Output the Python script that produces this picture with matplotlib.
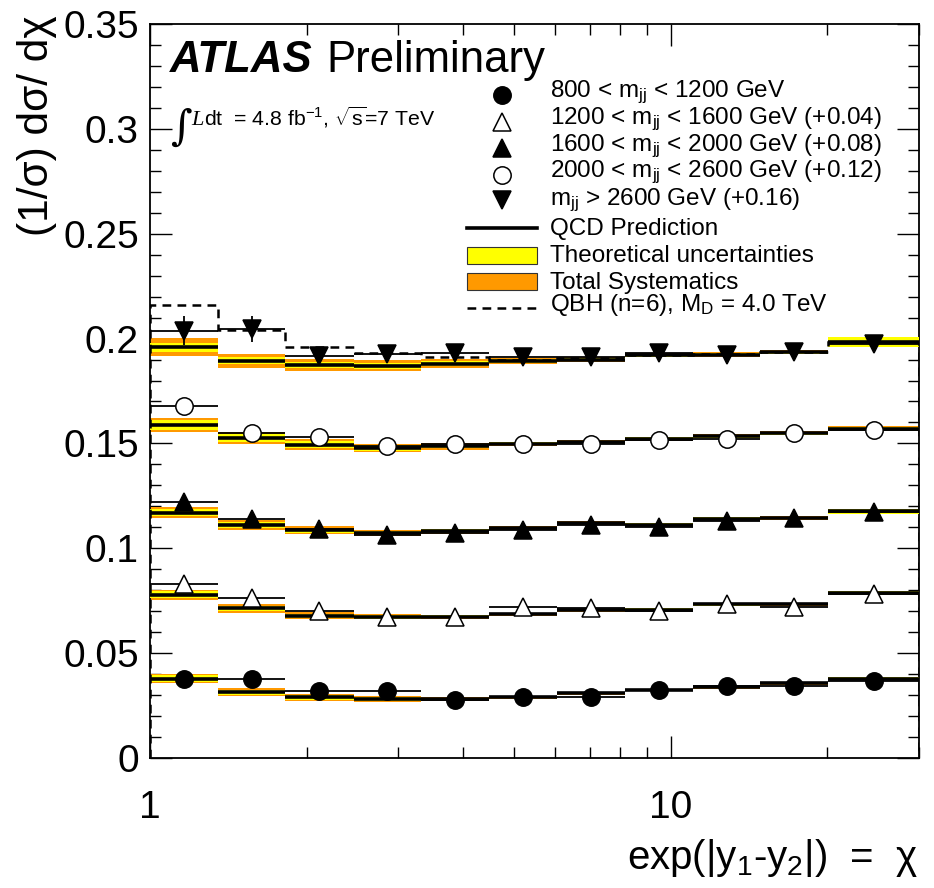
import numpy as np
import matplotlib
matplotlib.use("Agg")
import matplotlib.pyplot as plt

plt.rcParams["font.family"] = ["Liberation Sans", "DejaVu Sans"]
plt.rcParams["mathtext.fontset"] = "custom"
plt.rcParams["mathtext.rm"] = "Liberation Sans"
plt.rcParams["mathtext.it"] = "Liberation Sans:italic"
plt.rcParams["mathtext.bf"] = "Liberation Sans:bold"

# chi bin edges (exp of |y1-y2| in steps of 0.3, last bin up to 30)
chi_edges = [1.0, 1.35, 1.82, 2.46, 3.32, 4.48, 6.05, 8.17, 11.02, 14.88, 20.09, 30.0]

# mass-bin labels and the vertical offsets added for display
mass_labels = [
    r"800 < m$_{\rm jj}$ < 1200 GeV",
    r"1200 < m$_{\rm jj}$ < 1600 GeV (+0.04)",
    r"1600 < m$_{\rm jj}$ < 2000 GeV (+0.08)",
    r"2000 < m$_{\rm jj}$ < 2600 GeV (+0.12)",
    r"m$_{\rm jj}$ > 2600 GeV (+0.16)",
]
offsets = [0.0, 0.04, 0.08, 0.12, 0.16]

# measured normalised distributions (before offset)
data_m1 = [0.0378, 0.0375, 0.0319, 0.0319, 0.0276, 0.0289, 0.0292, 0.0324, 0.0343, 0.0344, 0.0368]
data_m2 = [0.0432, 0.0363, 0.0301, 0.0270, 0.0270, 0.0321, 0.0313, 0.0300, 0.0332, 0.0321, 0.0384]
data_m3 = [0.0422, 0.0338, 0.0290, 0.0262, 0.0275, 0.0289, 0.0310, 0.0302, 0.0330, 0.0346, 0.0373]
data_m4 = [0.0478, 0.0350, 0.0330, 0.0290, 0.0298, 0.0298, 0.0298, 0.0317, 0.0322, 0.0349, 0.0365]
data_m5 = [0.0438, 0.0446, 0.0319, 0.0328, 0.0330, 0.0310, 0.0314, 0.0330, 0.0320, 0.0335, 0.0375]

# statistical uncertainties
stat_m1 = [0.0010, 0.0010, 0.0008, 0.0008, 0.0008, 0.0008, 0.0008, 0.0008, 0.0008, 0.0008, 0.0008]
stat_m2 = [0.0020, 0.0016, 0.0012, 0.0010, 0.0010, 0.0010, 0.0010, 0.0010, 0.0010, 0.0010, 0.0010]
stat_m3 = [0.0025, 0.0020, 0.0015, 0.0012, 0.0012, 0.0012, 0.0012, 0.0012, 0.0012, 0.0012, 0.0012]
stat_m4 = [0.0030, 0.0025, 0.0020, 0.0015, 0.0015, 0.0015, 0.0015, 0.0015, 0.0015, 0.0015, 0.0015]
stat_m5 = [0.0070, 0.0060, 0.0040, 0.0030, 0.0030, 0.0025, 0.0025, 0.0025, 0.0025, 0.0025, 0.0025]

# QCD prediction (before offset)
qcd_m1 = [0.0379, 0.0313, 0.0289, 0.0281, 0.0281, 0.0289, 0.0308, 0.0324, 0.0337, 0.0356, 0.0379]
qcd_m2 = [0.0379, 0.0313, 0.0278, 0.0273, 0.0273, 0.0286, 0.0305, 0.0308, 0.0332, 0.0333, 0.0387]
qcd_m3 = [0.0370, 0.0312, 0.0286, 0.0273, 0.0282, 0.0297, 0.0320, 0.0313, 0.0341, 0.0344, 0.0376]
qcd_m4 = [0.0386, 0.0325, 0.0294, 0.0277, 0.0287, 0.0298, 0.0306, 0.0322, 0.0335, 0.0349, 0.0370]
qcd_m5 = [0.0358, 0.0295, 0.0275, 0.0271, 0.0280, 0.0292, 0.0300, 0.0320, 0.0324, 0.0335, 0.0383]

# theoretical uncertainty (half width)
theo_m1 = [0.0015, 0.0013, 0.0012, 0.0010, 0.0006, 0.0005, 0.0005, 0.0005, 0.0005, 0.0005, 0.0009]
theo_m2 = [0.0015, 0.0013, 0.0011, 0.0008, 0.0007, 0.0005, 0.0005, 0.0005, 0.0005, 0.0005, 0.0010]
theo_m3 = [0.0017, 0.0015, 0.0012, 0.0010, 0.0008, 0.0006, 0.0006, 0.0006, 0.0006, 0.0006, 0.0012]
theo_m4 = [0.0024, 0.0020, 0.0016, 0.0014, 0.0010, 0.0007, 0.0007, 0.0007, 0.0007, 0.0007, 0.0009]
theo_m5 = [0.0021, 0.0018, 0.0015, 0.0014, 0.0012, 0.0010, 0.0007, 0.0007, 0.0007, 0.0007, 0.0024]

# total systematic uncertainty (half width)
syst_m1 = [0.0022, 0.0019, 0.0018, 0.0015, 0.0008, 0.0006, 0.0006, 0.0006, 0.0006, 0.0006, 0.0008]
syst_m2 = [0.0024, 0.0020, 0.0016, 0.0012, 0.0010, 0.0007, 0.0007, 0.0007, 0.0007, 0.0007, 0.0009]
syst_m3 = [0.0026, 0.0024, 0.0018, 0.0015, 0.0012, 0.0008, 0.0008, 0.0008, 0.0008, 0.0008, 0.0010]
syst_m4 = [0.0033, 0.0030, 0.0025, 0.0020, 0.0016, 0.0010, 0.0010, 0.0010, 0.0010, 0.0010, 0.0012]
syst_m5 = [0.0043, 0.0033, 0.0029, 0.0028, 0.0022, 0.0015, 0.0010, 0.0010, 0.0010, 0.0010, 0.0020]

# quantum black hole signal for the highest mass bin (before offset)
qbh_m5 = [0.0560, 0.0440, 0.0360, 0.0330, 0.0314, 0.0300, 0.0305, 0.0322, 0.0326, 0.0335, 0.0383]

data_sets = [data_m1, data_m2, data_m3, data_m4, data_m5]
stat_sets = [stat_m1, stat_m2, stat_m3, stat_m4, stat_m5]
qcd_sets = [qcd_m1, qcd_m2, qcd_m3, qcd_m4, qcd_m5]
theo_sets = [theo_m1, theo_m2, theo_m3, theo_m4, theo_m5]
syst_sets = [syst_m1, syst_m2, syst_m3, syst_m4, syst_m5]

marker_styles = [
    dict(marker="o", mfc="black", mec="black"),
    dict(marker="^", mfc="white", mec="black"),
    dict(marker="^", mfc="black", mec="black"),
    dict(marker="o", mfc="white", mec="black"),
    dict(marker="v", mfc="black", mec="black"),
]

YELLOW = "#ffff00"
ORANGE = "#ff9900"

W, H = 934, 888
fig = plt.figure(figsize=(W / 100, H / 100), dpi=100)
ax = fig.add_axes([150 / W, 1 - 758 / H, (919 - 150) / W, (758 - 24) / H])

edges = np.array(chi_edges)
centers = np.sqrt(edges[:-1] * edges[1:])
xlo = centers - edges[:-1]
xhi = edges[1:] - centers


def marker_size(m):
    return 12.5 if m == "o" else 13.5


for i in range(5):
    off = offsets[i]
    qcd = np.array(qcd_sets[i]) + off
    tot = np.array(syst_sets[i])
    th = np.array(theo_sets[i])
    ax.stairs(qcd + tot, edges, baseline=qcd - tot, fill=True, color=ORANGE, lw=0, zorder=2)
    ax.stairs(qcd + th, edges, baseline=qcd - th, fill=True, color=YELLOW, lw=0, zorder=3)
    ax.hlines(qcd, edges[:-1], edges[1:], colors="black", lw=2.6, zorder=4)

qbh = np.array(qbh_m5) + offsets[4]
ax.stairs(qbh, edges, baseline=0, color="black", lw=1.8, ls=(0, (3.5, 2.5)), zorder=5)

for i in range(5):
    y = np.array(data_sets[i]) + offsets[i]
    ax.errorbar(centers, y, xerr=[xlo, xhi], yerr=stat_sets[i], fmt="none",
                ecolor="black", elinewidth=1.3, capsize=0, zorder=6)
    st = marker_styles[i]
    ax.plot(centers, y, ls="none", marker=st["marker"], ms=marker_size(st["marker"]),
            mfc=st["mfc"], mec=st["mec"], mew=1.1, zorder=7)

ax.set_xscale("log")
ax.set_xlim(1, 30)
ax.set_ylim(0, 0.35)
ax.set_yticks(np.arange(0, 0.351, 0.05))
ax.set_yticks(np.arange(0, 0.351, 0.01), minor=True)
ax.set_yticklabels(["0", "0.05", "0.1", "0.15", "0.2", "0.25", "0.3", "0.35"])
ax.set_xticks([1, 10])
ax.set_xticklabels(["1", "10"])
ax.set_xticks([2, 3, 4, 5, 6, 7, 8, 9, 20, 30], minor=True)
ax.xaxis.set_minor_formatter(matplotlib.ticker.NullFormatter())
ax.tick_params(which="both", direction="in", top=True, right=True, width=1.0)
ax.tick_params(which="major", length=16)
ax.tick_params(which="minor", length=8)
ax.tick_params(axis="y", labelsize=28, pad=8)
ax.tick_params(axis="x", labelsize=28, pad=23)
for s in ax.spines.values():
    s.set_linewidth(1.3)


def fx(px):
    return px / W


def fy(py):
    return 1 - py / H


# axis titles
fig.text(fx(37), fy(126), "(1/σ) dσ/ dχ", rotation=90, fontsize=30.5, ha="center", va="center")
fig.text(fx(918), fy(858), r"exp(|y$_1$-y$_2$|)  =  χ", fontsize=29, ha="right", va="center")

# experiment labels
fig.text(fx(170), fy(72), "ATLAS", fontsize=31.5, fontweight="bold", fontstyle="italic", va="baseline")
fig.text(fx(326), fy(72), "Preliminary", fontsize=31.5, va="baseline")
fig.text(fx(170), fy(140), "∫", fontsize=30, family="DejaVu Serif", va="baseline")
fig.text(fx(191), fy(125), "L", fontsize=16, family="Liberation Serif", fontstyle="italic", va="baseline")
fig.text(fx(204), fy(125), r"dt  = 4.8 fb$^{-1}$, $\sqrt{\rm s}$=7 TeV", fontsize=15.3, va="baseline")

# legend
leg_fs = 17.5
text_x = fx(550)
mark_x = fx(502)
line_x0, line_x1 = fx(467), fx(537)
mark_rows = [95, 122, 148, 175, 200]
text_rows = [97, 124, 151, 177, 205]
for i in range(5):
    st = marker_styles[i]
    fig.lines.append(matplotlib.lines.Line2D([mark_x], [fy(mark_rows[i])], ls="none",
                                             marker=st["marker"], ms=marker_size(st["marker"]),
                                             mfc=st["mfc"], mec=st["mec"], mew=1.1,
                                             transform=fig.transFigure))
    fig.text(text_x, fy(text_rows[i]), mass_labels[i], fontsize=leg_fs, va="baseline")

fig.lines.append(matplotlib.lines.Line2D([line_x0, line_x1], [fy(228), fy(228)], color="black",
                                         lw=2.6, transform=fig.transFigure))
fig.text(text_x, fy(235), "QCD Prediction", fontsize=leg_fs, va="baseline")
for py, col in [(247, YELLOW), (273, ORANGE)]:
    fig.patches.append(matplotlib.patches.Rectangle((line_x0, fy(py + 17)), line_x1 - line_x0, 17 / H,
                                                    facecolor=col, edgecolor="#333333", lw=0.8,
                                                    transform=fig.transFigure))
fig.text(text_x, fy(262), "Theoretical uncertainties", fontsize=leg_fs, va="baseline")
fig.text(text_x, fy(289), "Total Systematics", fontsize=leg_fs, va="baseline")
fig.lines.append(matplotlib.lines.Line2D([line_x0, line_x1], [fy(308), fy(308)], color="black",
                                         lw=1.8, ls=(0, (3.5, 2.5)), transform=fig.transFigure))
fig.text(text_x, fy(311), r"QBH (n=6), M$_{\rm D}$ = 4.0 TeV", fontsize=leg_fs, va="baseline")

fig.savefig("out.png", dpi=100)
